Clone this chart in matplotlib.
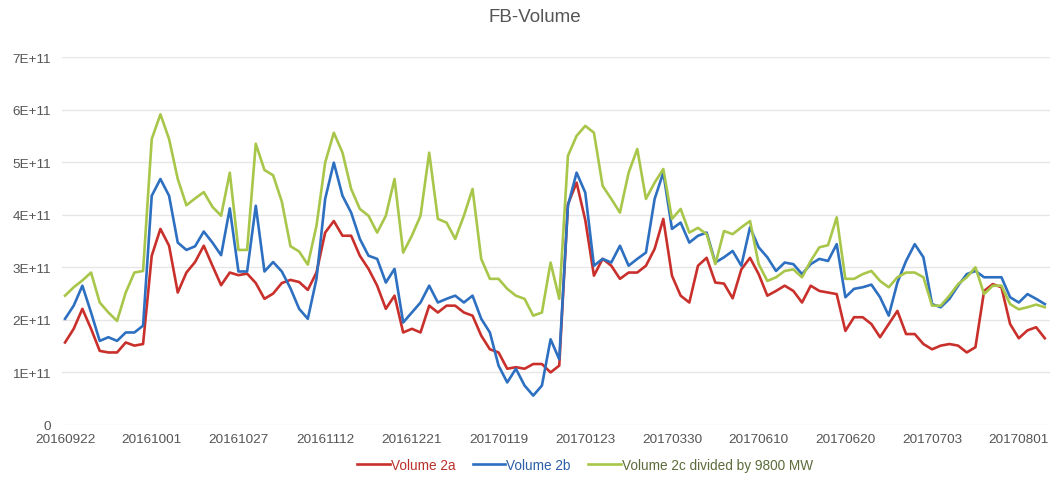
import numpy as np
import matplotlib
matplotlib.use('Agg')
import matplotlib.pyplot as plt
from matplotlib.ticker import FuncFormatter

plt.rcParams['font.family'] = ['Liberation Sans', 'DejaVu Sans']

# Data (values in units of 1E+11), one point per trading day shown in the chart
red_2a = [
    1.57, 1.83, 2.21, 1.83, 1.41, 1.38, 1.38, 1.57, 1.51, 1.54,
    3.22, 3.73, 3.41, 2.52, 2.90, 3.10, 3.41, 3.03, 2.66, 2.90,
    2.85, 2.88, 2.70, 2.40, 2.50, 2.70, 2.76, 2.72, 2.57, 2.90,
    3.66, 3.88, 3.60, 3.60, 3.22, 2.97, 2.65, 2.21, 2.46, 1.76,
    1.83, 1.76, 2.27, 2.14, 2.27, 2.27, 2.14, 2.08, 1.70, 1.44,
    1.38, 1.07, 1.10, 1.07, 1.16, 1.16, 1.00, 1.13, 4.20, 4.61,
    3.90, 2.84, 3.16, 3.03, 2.78, 2.90, 2.90, 3.03, 3.35, 3.92,
    2.84, 2.46, 2.33, 3.03, 3.18, 2.71, 2.69, 2.41, 2.96, 3.18,
    2.87, 2.46, 2.55, 2.65, 2.55, 2.33, 2.65, 2.55, 2.52, 2.49,
    1.79, 2.05, 2.05, 1.92, 1.67, 1.92, 2.17, 1.73, 1.73, 1.54,
    1.44, 1.51, 1.54, 1.51, 1.38, 1.48, 2.55, 2.68, 2.62, 1.92,
    1.65, 1.80, 1.86, 1.65,
]
blue_2b = [
    2.02, 2.27, 2.65, 2.14, 1.60, 1.67, 1.60, 1.76, 1.76, 1.89,
    4.36, 4.68, 4.36, 3.47, 3.33, 3.40, 3.68, 3.47, 3.23, 4.12,
    2.92, 2.92, 4.17, 2.92, 3.10, 2.92, 2.60, 2.21, 2.02, 2.78,
    4.30, 4.99, 4.36, 4.04, 3.54, 3.22, 3.16, 2.71, 2.97, 1.95,
    2.14, 2.33, 2.65, 2.33, 2.40, 2.46, 2.33, 2.46, 2.02, 1.76,
    1.13, 0.81, 1.07, 0.75, 0.56, 0.75, 1.63, 1.25, 4.17, 4.80,
    4.42, 3.03, 3.16, 3.09, 3.41, 3.03, 3.16, 3.28, 4.30, 4.80,
    3.73, 3.85, 3.47, 3.60, 3.66, 3.09, 3.19, 3.31, 3.03, 3.76,
    3.38, 3.19, 2.93, 3.09, 3.06, 2.87, 3.06, 3.16, 3.12, 3.44,
    2.43, 2.59, 2.62, 2.67, 2.43, 2.08, 2.71, 3.12, 3.44, 3.19,
    2.30, 2.24, 2.40, 2.65, 2.87, 2.93, 2.81, 2.81, 2.81, 2.43,
    2.33, 2.49, 2.40, 2.30,
]
green_2c = [
    2.46, 2.62, 2.75, 2.90, 2.33, 2.14, 1.98, 2.52, 2.90, 2.93,
    5.44, 5.91, 5.44, 4.68, 4.18, 4.31, 4.43, 4.15, 3.98, 4.80,
    3.33, 3.33, 5.35, 4.85, 4.75, 4.25, 3.40, 3.30, 3.05, 3.79,
    4.99, 5.56, 5.18, 4.49, 4.11, 3.98, 3.66, 3.98, 4.68, 3.28,
    3.60, 3.98, 5.18, 3.92, 3.85, 3.54, 3.98, 4.49, 3.16, 2.78,
    2.78, 2.59, 2.46, 2.40, 2.08, 2.14, 3.09, 2.40, 5.12, 5.50,
    5.69, 5.56, 4.55, 4.30, 4.04, 4.80, 5.25, 4.30, 4.61, 4.87,
    3.92, 4.11, 3.66, 3.75, 3.63, 3.06, 3.69, 3.63, 3.76, 3.88,
    3.06, 2.74, 2.81, 2.93, 2.96, 2.81, 3.12, 3.38, 3.42, 3.95,
    2.78, 2.78, 2.87, 2.93, 2.74, 2.62, 2.81, 2.90, 2.90, 2.81,
    2.27, 2.27, 2.46, 2.68, 2.81, 3.00, 2.49, 2.65, 2.65, 2.30,
    2.20, 2.24, 2.29, 2.24,
]
date_labels = ['20160922', '20161001', '20161027', '20161112', '20161221', '20170119',
               '20170123', '20170330', '20170610', '20170620', '20170703', '20170801']
label_step = 10
series_names = ['Volume 2a', 'Volume 2b', 'Volume 2c divided by 9800 MW']

colors = ['#c9302c', '#2d6fc0', '#a8c64a']
text_colors = ['#b8302c', '#2d5fa8', '#5c6b3a']

x = np.arange(len(red_2a))

fig = plt.figure(figsize=(10.53, 4.81), dpi=100)
ax = fig.add_axes([62 / 1053, 1 - 426 / 481, 988 / 1053, 368 / 481])

handles = []
for vals, c in zip([red_2a, blue_2b, green_2c], colors):
    h, = ax.plot(x, np.array(vals) * 1e11, color=c, linewidth=1.9, solid_joinstyle='round')
    handles.append(h)

# Axes styling
ax.set_ylim(0, 7e11)
ax.set_yticks(np.arange(0, 8e11, 1e11))
ax.yaxis.set_major_formatter(FuncFormatter(lambda v, _: '0' if v == 0 else f'{v / 1e11:.0f}E+11'))
ax.set_xlim(-0.35, 113.6)
ax.set_xticks(np.arange(0, len(date_labels) * label_step, label_step))
ax.set_xticklabels(date_labels)
ax.tick_params(axis='both', length=0, labelsize=9.7, colors='#555555')
ax.tick_params(axis='x', pad=6)
ax.tick_params(axis='y', pad=8)
ax.grid(axis='y', color='#e6e6e6', linewidth=1)
ax.set_axisbelow(True)
for spine in ax.spines.values():
    spine.set_visible(False)

fig.text(535 / 1053, 1 - 18 / 481, 'FB-Volume', ha='center', va='center',
         fontsize=13.5, color='#555555')

leg = fig.legend(handles, series_names, loc='center', bbox_to_anchor=(585 / 1053, 1 - 466 / 481),
                 ncol=3, frameon=False, handlelength=2.4, handletextpad=0.05,
                 columnspacing=1.3, fontsize=9.8)
for t, c in zip(leg.get_texts(), text_colors):
    t.set_color(c)

fig.savefig('out.png', dpi=100)
